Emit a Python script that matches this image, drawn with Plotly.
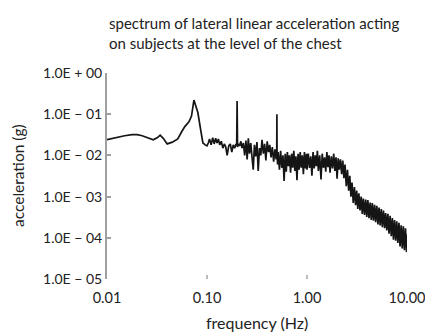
import plotly.graph_objects as go

# ---- data ----
freq_low = [0.0100, 0.0115, 0.0130, 0.0150, 0.0178, 0.0200, 0.0225, 0.0260, 0.0290, 0.0320,
            0.0340, 0.0365, 0.0400, 0.0450, 0.0510, 0.0560, 0.0600, 0.0660, 0.0700, 0.0740,
            0.0770, 0.0810, 0.0860, 0.0910, 0.0960, 0.1000]
acc_low = [2.4e-2, 2.6e-2, 2.8e-2, 3.0e-2, 3.2e-2, 3.2e-2, 3.0e-2, 2.6e-2, 2.4e-2, 2.7e-2,
           3.1e-2, 2.6e-2, 1.9e-2, 2.1e-2, 2.5e-2, 3.8e-2, 5.0e-2, 6.5e-2, 9.0e-2, 2.2e-1,
           1.6e-1, 1.1e-1, 4.5e-2, 2.0e-2, 1.8e-2, 1.7e-2]

freq_mid = [0.103, 0.106, 0.110, 0.114, 0.118, 0.122, 0.126, 0.130, 0.134, 0.139,
            0.144, 0.149, 0.154, 0.159, 0.165, 0.171, 0.177, 0.183, 0.189, 0.195,
            0.198, 0.200, 0.202, 0.206, 0.212, 0.218, 0.224, 0.231, 0.238, 0.245,
            0.252, 0.259, 0.266, 0.274, 0.282, 0.290, 0.298, 0.307, 0.316, 0.325,
            0.335, 0.345, 0.355, 0.366, 0.377, 0.388, 0.400, 0.412, 0.424, 0.437,
            0.450, 0.464, 0.478, 0.492, 0.498, 0.500, 0.502, 0.508]
acc_mid = [2.0e-2, 2.5e-2, 1.8e-2, 2.7e-2, 1.9e-2, 2.6e-2, 2.0e-2, 2.5e-2, 1.8e-2, 2.2e-2,
           1.5e-2, 1.9e-2, 1.6e-2, 1.0e-2, 1.7e-2, 1.9e-2, 1.2e-2, 1.8e-2, 1.5e-2, 1.9e-2,
           1.7e-2, 2.1e-1, 1.6e-2, 1.9e-2, 1.7e-2, 2.2e-2, 1.5e-2, 2.0e-2, 1.0e-2, 2.3e-2,
           8.0e-3, 2.6e-2, 1.1e-2, 2.0e-2, 9.0e-3, 4.5e-3, 1.8e-2, 9.5e-3, 2.1e-2, 4.2e-3,
           1.5e-2, 1.0e-2, 2.4e-2, 1.1e-2, 1.9e-2, 7.5e-3, 2.2e-2, 1.2e-2, 1.8e-2, 9.0e-3,
           1.6e-2, 7.0e-3, 1.4e-2, 8.0e-3, 1.2e-2, 1.0e-1, 1.1e-2, 6.0e-3]

freq_upper = [0.515, 0.530, 0.545, 0.560, 0.575, 0.590, 0.605, 0.620, 0.636, 0.652,
              0.668, 0.685, 0.702, 0.720, 0.738, 0.756, 0.775, 0.794, 0.814, 0.834,
              0.855, 0.876, 0.898, 0.920, 0.943, 0.966, 0.990]
acc_upper = [1.2e-2, 4.5e-3, 1.3e-2, 5.0e-3, 1.0e-2, 2.4e-3, 1.1e-2, 4.0e-3, 1.2e-2, 5.5e-3,
             1.0e-2, 3.8e-3, 1.1e-2, 5.0e-3, 1.3e-2, 4.2e-3, 9.5e-3, 2.5e-3, 1.1e-2, 4.5e-3,
             1.2e-2, 5.0e-3, 1.0e-2, 3.5e-3, 1.2e-2, 4.8e-3, 1.1e-2]

freq_high = [1.00, 1.03, 1.06, 1.09, 1.12, 1.15, 1.18, 1.21, 1.24, 1.27,
             1.30, 1.34, 1.38, 1.42, 1.46, 1.50, 1.54, 1.58, 1.62, 1.66,
             1.70, 1.75, 1.80, 1.85, 1.90, 1.95, 2.00, 2.05, 2.10, 2.16,
             2.22, 2.28, 2.34, 2.40, 2.47, 2.54, 2.61, 2.68, 2.75, 2.82,
             2.90, 2.98, 3.06, 3.14, 3.22, 3.30, 3.39, 3.48, 3.57, 3.66,
             3.76, 3.86, 3.96, 4.06, 4.17, 4.28, 4.39, 4.50, 4.62, 4.74,
             4.86, 4.99, 5.12, 5.25, 5.39, 5.53, 5.67, 5.82, 5.97, 6.12,
             6.28, 6.44, 6.61, 6.78, 6.96, 7.14, 7.32, 7.51, 7.70, 7.90,
             8.10, 8.31, 8.52, 8.74, 8.96, 9.19, 9.42, 9.66, 9.90, 10.0]
acc_high = [4.5e-3, 1.1e-2, 5.0e-3, 9.5e-3, 3.2e-3, 1.2e-2, 4.8e-3, 1.0e-2, 5.5e-3, 1.3e-2,
            4.2e-3, 1.0e-2, 2.6e-3, 1.1e-2, 5.0e-3, 9.0e-3, 4.0e-3, 1.2e-2, 5.2e-3, 1.0e-2,
            3.8e-3, 9.5e-3, 4.8e-3, 1.1e-2, 4.2e-3, 9.0e-3, 2.7e-3, 8.5e-3, 4.5e-3, 8.0e-3,
            3.5e-3, 7.5e-3, 2.8e-3, 6.0e-3, 1.8e-3, 4.5e-3, 1.4e-3, 3.2e-3, 1.0e-3, 2.2e-3,
            7.0e-4, 1.7e-3, 6.2e-4, 1.4e-3, 5.0e-4, 1.2e-3, 4.6e-4, 1.0e-3, 3.8e-4, 9.0e-4,
            3.6e-4, 8.5e-4, 3.2e-4, 8.2e-4, 3.0e-4, 7.2e-4, 2.7e-4, 7.0e-4, 2.6e-4, 6.3e-4,
            2.4e-4, 6.0e-4, 2.1e-4, 5.4e-4, 2.0e-4, 5.0e-4, 1.8e-4, 4.6e-4, 1.7e-4, 4.0e-4,
            1.5e-4, 3.8e-4, 1.25e-4, 3.4e-4, 1.1e-4, 3.0e-4, 9.0e-5, 2.7e-4, 8.5e-5, 2.5e-4,
            7.5e-5, 2.3e-4, 6.2e-5, 2.0e-4, 5.5e-5, 1.9e-4, 5.0e-5, 1.7e-4, 4.5e-5, 1.2e-4]

y_tickvals = [1, 1e-1, 1e-2, 1e-3, 1e-4, 1e-5]
y_ticktext = ["1.0E + 00", "1.0E \u2212 01", "1.0E \u2212 02", "1.0E \u2212 03",
              "1.0E \u2212 04", "1.0E \u2212 05"]
x_tickvals = [0.01, 0.1, 1, 10]
x_ticktext = ["0.01", "0.10", "1.00", "10.00"]

title_text = "spectrum of lateral linear acceleration acting<br>on subjects at the level of the chest"

freq = freq_low + freq_mid + freq_upper + freq_high
acc = acc_low + acc_mid + acc_upper + acc_high

FONT = "Lato"
TXT = "#222222"
PLOT_H = 335 - 73 - 56
PLOT_W = 425 - 107 - 18

fig = go.Figure()
fig.add_trace(go.Scatter(x=freq, y=acc, mode="lines",
                         line=dict(color="#151515", width=1.7),
                         hoverinfo="skip", showlegend=False))

fig.update_layout(
    width=425, height=335,
    margin=dict(l=107, r=18, t=73, b=56, autoexpand=False),
    paper_bgcolor="white", plot_bgcolor="white",
    font=dict(family=FONT, size=14, color=TXT),
    showlegend=False,
)
fig.update_xaxes(type="log", range=[-2, 1], tickvals=x_tickvals, ticktext=x_ticktext,
                 showgrid=False, zeroline=False, showline=False,
                 ticks="inside", ticklen=4, tickwidth=1.5, tickcolor="#bbbbbb",
                 ticklabelstandoff=8, ticklabeloverflow="allow",
                 tickfont=dict(family=FONT, size=14.5, color=TXT))
fig.update_yaxes(type="log", range=[-5, 0], tickvals=y_tickvals, ticktext=y_ticktext,
                 showgrid=False, zeroline=False, showline=True, linecolor="#a0a0a0",
                 linewidth=2, ticks="inside", ticklen=4, tickwidth=1.5, tickcolor="#a0a0a0",
                 ticklabeloverflow="allow",
                 tickfont=dict(family=FONT, size=14, color=TXT))

fig.add_annotation(text=title_text, xref="paper", yref="paper",
                   x=0, y=1 + (73 - 12) / PLOT_H, xanchor="left", yanchor="top",
                   align="left", showarrow=False,
                   font=dict(family=FONT, size=15, color=TXT))
fig.add_annotation(text="acceleration (g)", xref="paper", yref="paper",
                   x=-89 / PLOT_W, y=0.5, textangle=-90, showarrow=False,
                   font=dict(family=FONT, size=15.5, color=TXT), xanchor="center", yanchor="middle")
fig.add_annotation(text="frequency (Hz)", xref="paper", yref="paper",
                   x=0.5, y=-43 / PLOT_H, showarrow=False,
                   font=dict(family=FONT, size=16, color=TXT), xanchor="center", yanchor="middle")

fig.write_html("out.html")
